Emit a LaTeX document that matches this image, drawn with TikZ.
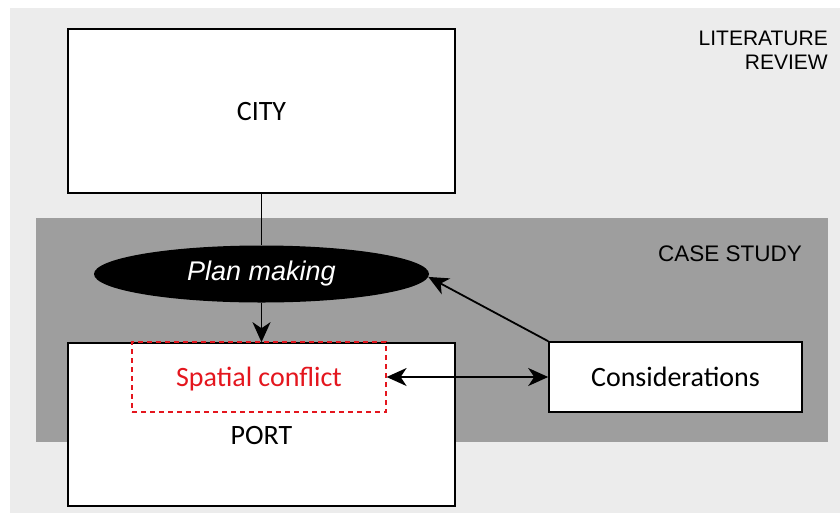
\documentclass[tikz,border=0pt]{standalone}
\usepackage{fontspec}
\setmainfont{Carlito}
\newfontfamily\headFont{Liberation Sans}
\usetikzlibrary{positioning,shapes.geometric,arrows.meta}
\tikzstyle{pixels} = [x = 1pt, y = -1pt]
\definecolor{reviewGray}{RGB}{236,236,236}
\definecolor{caseGray}{RGB}{158,158,158}
\definecolor{conflictRed}{RGB}{228,22,30}
\tikzstyle{boxStyle} = [draw=black, fill=white, line width=1.6pt, inner sep=0pt]
\tikzstyle{boxText} = [font=\fontsize{28}{32}\selectfont, text height=18pt, text depth=0pt]
\tikzstyle{conflictStyle} = [draw=conflictRed, dashed, dash pattern=on 5pt off 4pt, line width=1.2pt, inner sep=0pt, text=conflictRed]
\tikzstyle{planStyle} = [ellipse, fill=black, inner sep=0pt, text=white, font=\headFont\itshape\fontsize{27}{30}\selectfont]
\tikzstyle{stageText} = [font=\headFont\fontsize{21}{24}\selectfont, align=right, inner sep=0pt]
\tikzstyle{linkLine} = [line width=1.8pt]
\tikzset{bigTip/.tip={Stealth[length=20pt, width=18pt, inset=6pt]}}
\tikzstyle{linkTip} = [-bigTip]

\begin{document}
\begin{tikzpicture}[pixels]
  \useasboundingbox (0,0) rectangle (840,515);
  % stages
  \fill [reviewGray] (10,8) rectangle (840,513);
  \fill [caseGray] (36,218) rectangle (828,442);
  \node [stageText, anchor=north east] (review) at (828,31) {LITERATURE\\REVIEW};
  \node [stageText, anchor=north east, font=\headFont\fontsize{22.5}{26}\selectfont] (caseStudy) at (802,246) {CASE STUDY};

  % boxes
  \node [boxStyle, boxText, minimum width=387pt, minimum height=164pt] (city) at (261.5,111) {CITY};
  \node [boxStyle, minimum width=387pt, minimum height=163pt] (port) at (261.5,424.5) {};
  \node [boxText] (portLabel) at (261.5,435.5) {PORT};
  \node [conflictStyle, boxText, minimum width=254pt, minimum height=70pt] (conflict) at (259,377) {Spatial conflict};
  \node [boxStyle, boxText, minimum width=253pt, minimum height=70pt] (considerations) at (675.5,377) {Considerations};
  \node [planStyle, minimum width=335pt, minimum height=57pt] (planMaking) at (261.5,274) {Plan making};

  % links
  \draw [linkLine] (city.south) -- (planMaking.north);
  \draw [linkLine, linkTip] (planMaking.south) -- (port.north);
  \draw [linkLine, linkTip] (considerations.north west) -- (planMaking.-1);
  \draw [linkLine, bigTip-bigTip] (conflict.east) -- (considerations.west);
\end{tikzpicture}
\end{document}
